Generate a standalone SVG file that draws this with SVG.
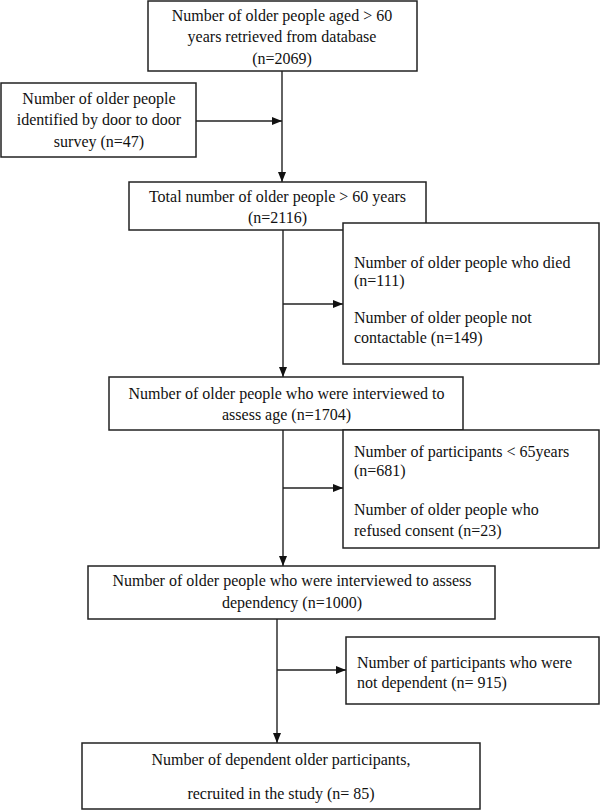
<svg xmlns="http://www.w3.org/2000/svg" width="600" height="810" viewBox="0 0 600 810">
<style>
.box{fill:#fff;stroke:#222;stroke-width:1.5}
.t{font-family:"Liberation Serif","Times New Roman",serif;font-size:16px;fill:#111}
.c{text-anchor:middle}
.ln{fill:none;stroke:#222;stroke-width:1.4}
</style>
<defs>
<marker id="ah" markerUnits="userSpaceOnUse" markerWidth="10" markerHeight="10" viewBox="0 0 10 10" refX="10" refY="5" orient="auto">
<path d="M0,1 L10,5 L0,9 Z" fill="#111"/>
</marker>
</defs>
<rect width="600" height="810" fill="#fff"/>
<g id="connectors">
<line class="ln" x1="282" y1="71" x2="282" y2="182" marker-end="url(#ah)"/>
<line class="ln" x1="196" y1="121" x2="282" y2="121" marker-end="url(#ah)"/>
<line class="ln" x1="283" y1="230" x2="283" y2="377" marker-end="url(#ah)"/>
<line class="ln" x1="283" y1="304" x2="343" y2="304" marker-end="url(#ah)"/>
<line class="ln" x1="283" y1="430" x2="283" y2="566" marker-end="url(#ah)"/>
<line class="ln" x1="283" y1="488" x2="343" y2="488" marker-end="url(#ah)"/>
<line class="ln" x1="277" y1="619" x2="277" y2="743" marker-end="url(#ah)"/>
<line class="ln" x1="277" y1="670" x2="346" y2="670" marker-end="url(#ah)"/>
</g>
<g id="n1">
<rect class="box" x="148" y="1" width="269" height="70"/>
<text class="t c" x="282" y="21">Number of older people aged &gt; 60</text>
<text class="t c" x="282" y="42">years retrieved from database</text>
<text class="t c" x="282" y="64">(n=2069)</text>
</g>
<g id="n2">
<rect class="box" x="1" y="83" width="195" height="74"/>
<text class="t c" x="99" y="104">Number of older people</text>
<text class="t c" x="99" y="125">identified by door to door</text>
<text class="t c" x="99" y="147">survey (n=47)</text>
</g>
<g id="n3">
<rect class="box" x="129" y="182" width="297" height="48"/>
<text class="t c" x="277.5" y="202">Total number of older people &gt; 60 years</text>
<text class="t c" x="277.5" y="223">(n=2116)</text>
</g>
<g id="n4">
<rect class="box" x="343" y="223" width="256" height="141"/>
<text class="t" x="354" y="268">Number of older people who died</text>
<text class="t" x="354" y="286">(n=111)</text>
<text class="t" x="354" y="323">Number of older people not</text>
<text class="t" x="354" y="343">contactable (n=149)</text>
</g>
<g id="n5">
<rect class="box" x="109" y="377" width="354" height="53"/>
<text class="t c" x="286.5" y="399">Number of older people who were interviewed to</text>
<text class="t c" x="286.5" y="420">assess age (n=1704)</text>
</g>
<g id="n6">
<rect class="box" x="343" y="430" width="256" height="118"/>
<text class="t" x="354" y="457">Number of participants &lt; 65years</text>
<text class="t" x="354" y="476">(n=681)</text>
<text class="t" x="354" y="515">Number of older people who</text>
<text class="t" x="354" y="536">refused consent (n=23)</text>
</g>
<g id="n7">
<rect class="box" x="88" y="566" width="407" height="53"/>
<text class="t c" x="292" y="586">Number of older people who were interviewed to assess</text>
<text class="t c" x="292" y="608">dependency (n=1000)</text>
</g>
<g id="n8">
<rect class="box" x="346" y="637" width="253" height="67"/>
<text class="t" x="357" y="668">Number of participants who were</text>
<text class="t" x="357" y="688">not dependent (n= 915)</text>
</g>
<g id="n9">
<rect class="box" x="82" y="743" width="398" height="66"/>
<text class="t c" x="281" y="765">Number of dependent older participants,</text>
<text class="t c" x="281" y="799">recruited in the study (n= 85)</text>
</g>
</svg>
